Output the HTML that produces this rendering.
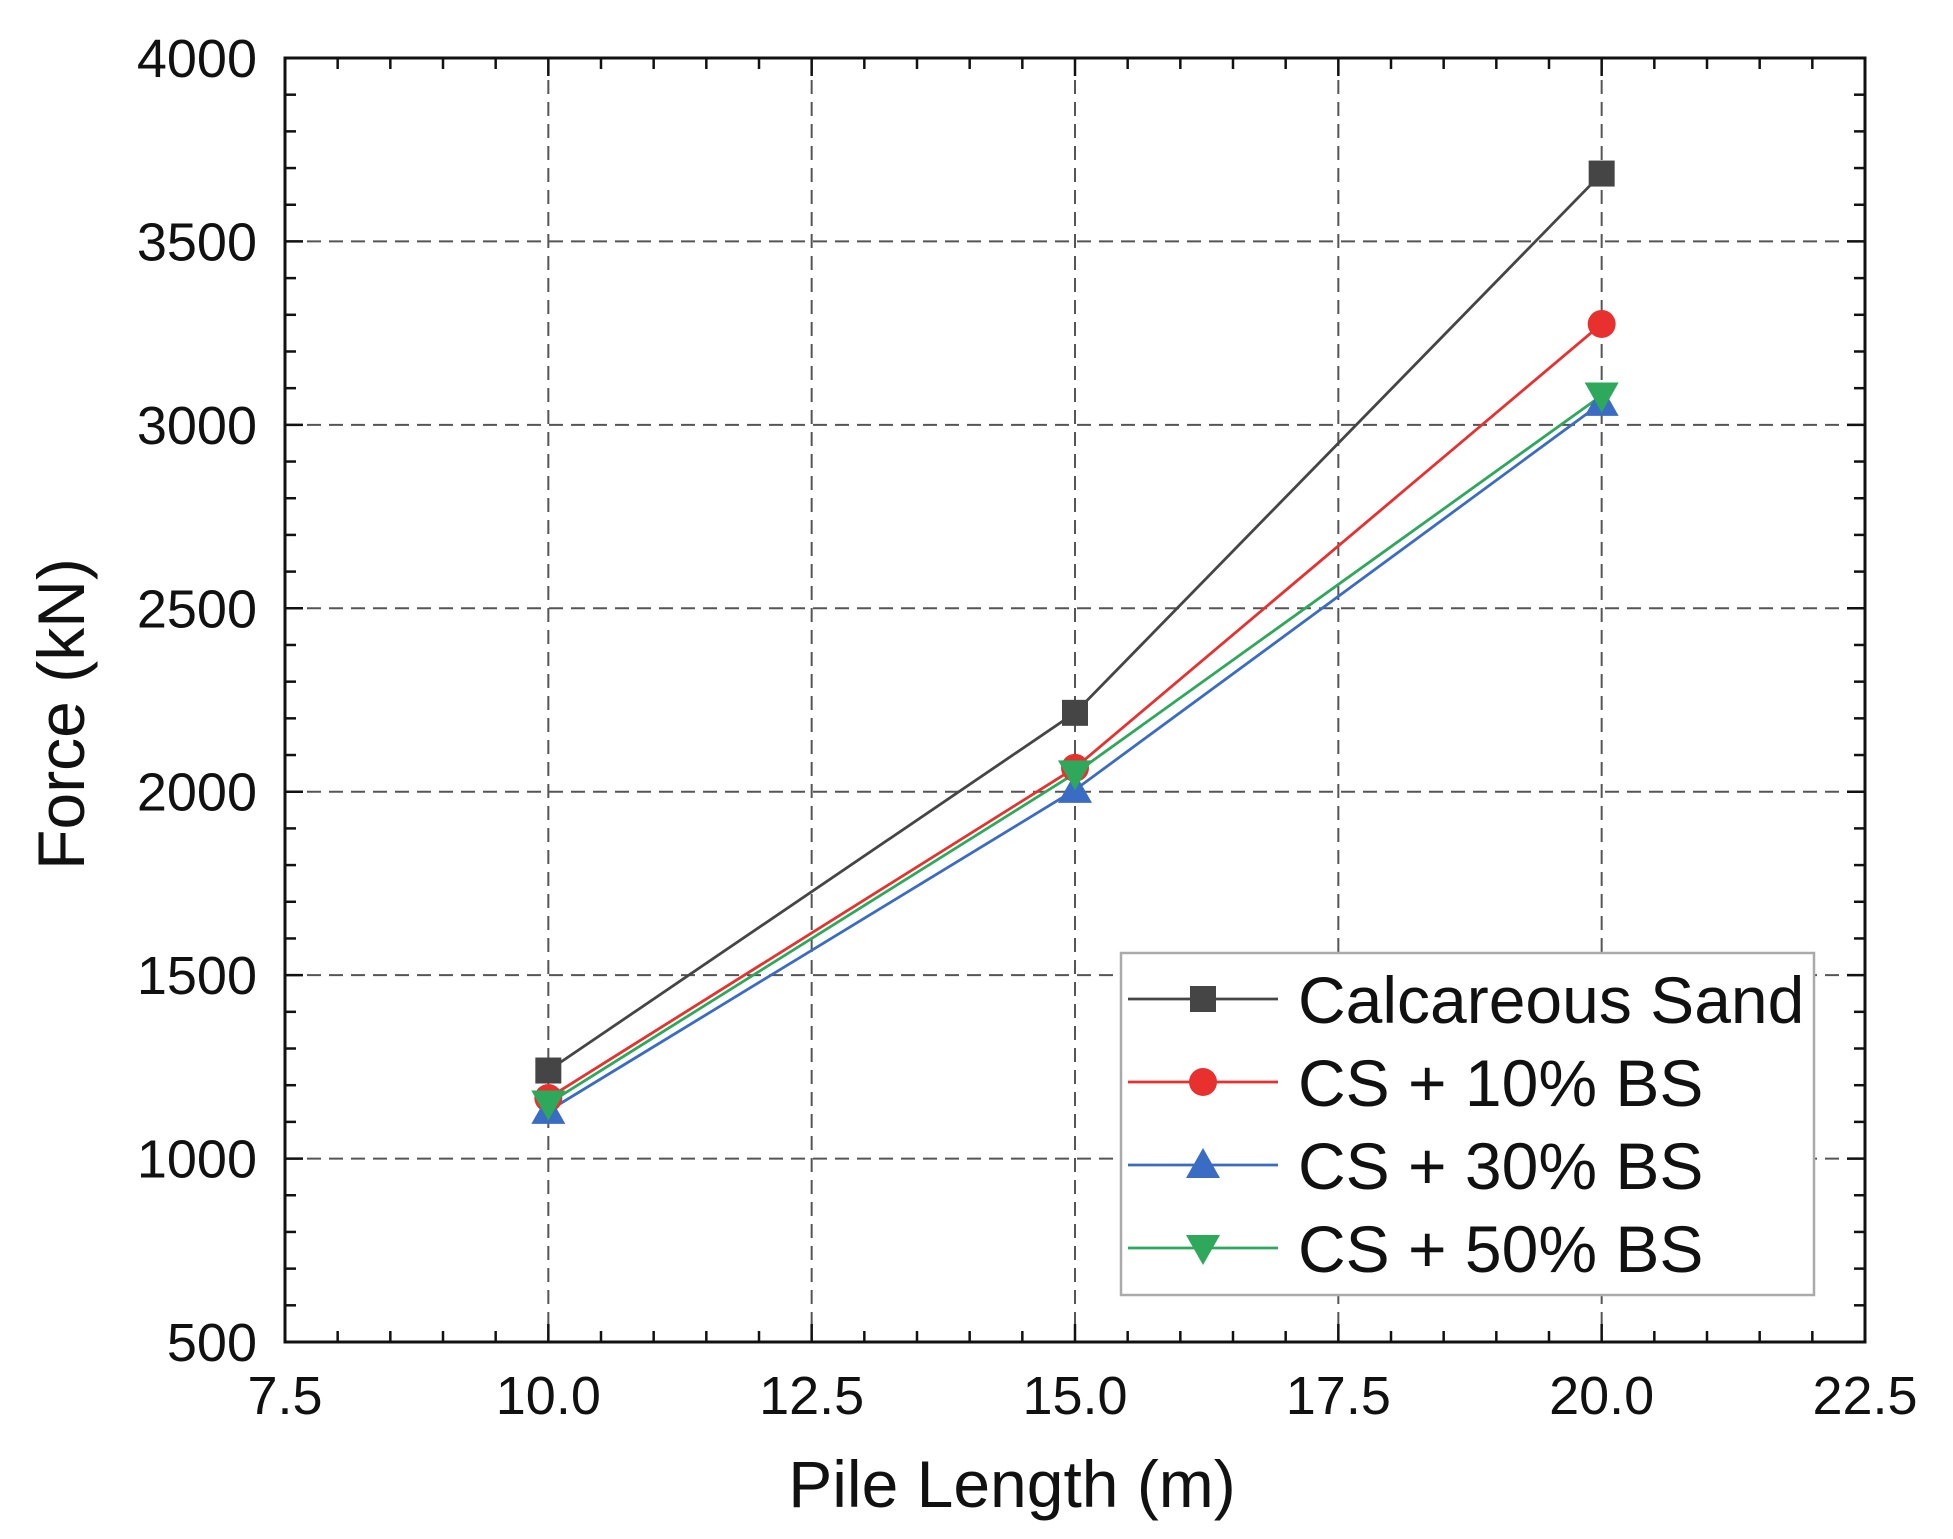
<!DOCTYPE html>
<html><head><meta charset="utf-8"><style>html,body{margin:0;padding:0;background:#fff}svg{display:block}</style></head>
<body>
<svg id="s" width="1953" height="1539" xmlns="http://www.w3.org/2000/svg" font-family="Liberation Sans, Arial, sans-serif">
<rect width="1953" height="1539" fill="#fff"/>
<g id="grid" stroke="#555" stroke-width="2" stroke-dasharray="14,8"></g>
<g id="ticks" stroke="#111" stroke-width="2.5"></g>
<g id="series"></g>
<rect x="285" y="58" width="1580" height="1284" fill="none" stroke="#111" stroke-width="3"/>
<g id="labels" font-size="54" fill="#111"></g>
<text x="1012" y="1507" font-size="66" text-anchor="middle" fill="#111">Pile Length (m)</text>
<text transform="translate(84,714) rotate(-90)" font-size="66" text-anchor="middle" fill="#111">Force (kN)</text>
<g id="legend">
<rect x="1121" y="953" width="693" height="342" fill="#fff" stroke="#aaa" stroke-width="2.5"/>
</g>
</svg>
<script>
const NS="http://www.w3.org/2000/svg";
const X0=285,X1=1865,Y0=1342,Y1=58;
const sx=v=>X0+(v-7.5)/15*(X1-X0), sy=v=>Y0-(v-500)/3500*(Y0-Y1);
function el(p,t,a,txt){const e=document.createElementNS(NS,t);for(const k in a)e.setAttribute(k,a[k]);if(txt!==undefined)e.textContent=txt;document.getElementById(p).appendChild(e);return e;}
for(let v=10;v<=20;v+=2.5){el('grid','line',{x1:sx(v),x2:sx(v),y1:Y1,y2:Y0});}
for(let v=1000;v<=3500;v+=500){el('grid','line',{x1:X0,x2:X1,y1:sy(v),y2:sy(v)});}
for(let i=0;i<=30;i++){const v=7.5+i*0.5,x=sx(v),L=(i%5==0)?18:11;
 el('ticks','line',{x1:x,x2:x,y1:Y0,y2:Y0-L});el('ticks','line',{x1:x,x2:x,y1:Y1,y2:Y1+L});}
for(let i=0;i<=35;i++){const v=500+i*100,y=sy(v),L=(i%5==0)?18:11;
 el('ticks','line',{x1:X0,x2:X0+L,y1:y,y2:y});el('ticks','line',{x1:X1,x2:X1-L,y1:y,y2:y});}
for(let v=7.5;v<=22.5;v+=2.5){el('labels','text',{x:sx(v),y:1414,'text-anchor':'middle'},v.toFixed(1));}
for(let v=500;v<=4000;v+=500){const s=String(v);el('labels','text',{x:257,y:sy(v)+19,'text-anchor':'end'},s);}
const S=[
 {c:'#454545',m:'sq',d:[1240,2215,3685],n:'Calcareous Sand'},
 {c:'#e8312f',m:'ci',d:[1165,2065,3275],n:'CS + 10% BS'},
 {c:'#3a6cc4',m:'up',d:[1130,2005,3060],n:'CS + 30% BS'},
 {c:'#2ea85a',m:'dn',d:[1150,2050,3080],n:'CS + 50% BS'}];
function marker(p,m,x,y,c){
 if(m=='sq')el(p,'rect',{x:x-13,y:y-13,width:26,height:26,fill:c});
 else if(m=='ci')el(p,'circle',{cx:x,cy:y,r:14,fill:c});
 else if(m=='up')el(p,'polygon',{points:`${x-17},${y+13} ${x+17},${y+13} ${x},${y-17}`,fill:c});
 else el(p,'polygon',{points:`${x-17},${y-13} ${x+17},${y-13} ${x},${y+17}`,fill:c});
}
S.forEach(s=>{const xs=[10,15,20];
 el('series','polyline',{points:xs.map((x,i)=>sx(x)+','+sy(s.d[i])).join(' '),fill:'none',stroke:s.c,'stroke-width':2.8});});
S.forEach(s=>{[10,15,20].forEach((x,i)=>marker('series',s.m,sx(x),sy(s.d[i]),s.c));});
S.forEach((s,i)=>{const y=999+i*83;
 el('legend','line',{x1:1128,x2:1278,y1:y,y2:y,stroke:s.c,'stroke-width':2.8});
 marker('legend',s.m,1203,y,s.c);
 el('legend','text',{x:1298,y:y+24,'font-size':66,fill:'#111'},s.n);});
</script>
</body></html>
